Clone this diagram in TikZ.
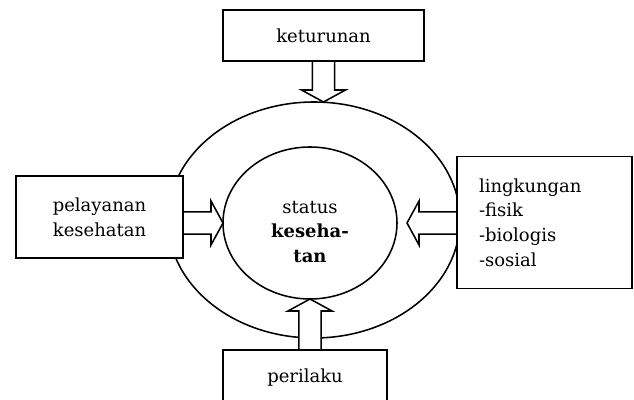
\documentclass[tikz,border=0pt]{standalone}
\usepackage{fontspec}
\setmainfont{DejaVu Serif}
\usetikzlibrary{calc,shapes.geometric}

% hollow block arrow from #1 (start) to #2 (tip)
\newcommand{\hollowarrow}[2]{%
  \coordinate (arrow_base) at ($(#2)!0.3cm!(#1)$);
  \draw[arrow_body] ($(#1)!0.28cm!90:(#2)$) -- ($(arrow_base)!0.28cm!90:(#2)$)
    -- ($(arrow_base)!0.55cm!90:(#2)$) -- (#2)
    -- ($(arrow_base)!0.55cm!-90:(#2)$) -- ($(arrow_base)!0.28cm!-90:(#2)$)
    -- ($(#1)!0.28cm!-90:(#2)$);
}

\begin{document}
\begin{tikzpicture}[
    line width=1.1pt,
    every node/.style={font=\fontsize{12.8pt}{17.5pt}\selectfont},
    factor_box/.style={draw, fill=white, rectangle, inner sep=0pt, outer sep=0pt, align=center},
    ring/.style={draw, ellipse, inner sep=0pt, outer sep=0pt},
    arrow_body/.style={draw, fill=white, line join=miter}
  ]
  \useasboundingbox (0,0) rectangle (15.85,10);
  \clip (0,0) rectangle (15.85,10);

  % draw the two rings
  \node[ring, minimum width=7.3cm, minimum height=5.9cm] (ellipse_outer) at (7.85,4.5) {};
  \node[ring, minimum width=4.35cm, minimum height=3.8cm] (ellipse_inner) at (7.75,4.425) {};
  \node[align=center] (status_text) at ($(ellipse_inner.center)+(0,-0.22)$)
    {status\\\textbf{keseha-}\\\textbf{tan}};

  % draw the boxes for the four factors
  \node[factor_box, minimum width=5.025cm, minimum height=1.275cm] (box_top) at (8.0875,9.1125) {keturunan};
  \node[factor_box, minimum width=4.175cm, minimum height=2.05cm] (box_left) at (2.4875,4.575) {pelayanan\\kesehatan};
  \node[factor_box, minimum width=4.1cm, minimum height=1.4cm] (box_bottom) at (7.625,0.55) {perilaku};
  \node[factor_box, minimum width=4.375cm, minimum height=3.275cm, align=left,
        text width=3.275cm, inner sep=0.55cm] (box_right) at (13.6125,4.4375)
    {lingkungan\\-fisik\\-biologis\\-sosial};

  % draw hollow arrows pointing to the center
  \coordinate (tip_right) at ($(ellipse_inner.east)+(0.25,0)$);
  \hollowarrow{box_top.south}{box_top.south |- ellipse_outer.north}
  \hollowarrow{box_left.east |- ellipse_inner.west}{ellipse_inner.west}
  \hollowarrow{ellipse_inner.south |- box_bottom.north}{ellipse_inner.south}
  \hollowarrow{box_right.west |- tip_right}{tip_right}

  % redraw the box outlines on top of the arrow ends
  \foreach \factor in {box_top, box_left, box_bottom, box_right}
    \draw (\factor.south west) rectangle (\factor.north east);
\end{tikzpicture}
\end{document}
